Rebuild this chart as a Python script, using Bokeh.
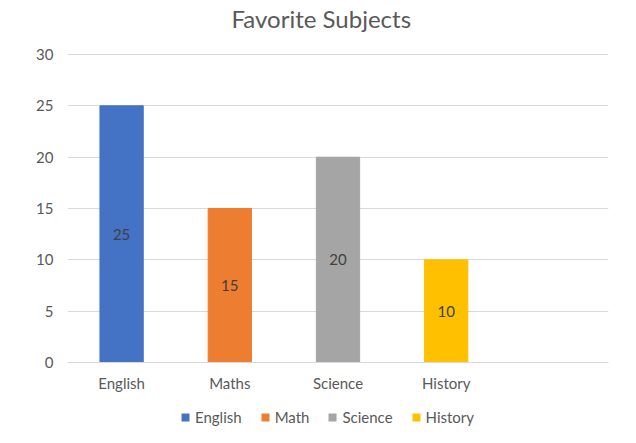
from bokeh.plotting import figure
from bokeh.layouts import column
from bokeh.models import ColumnDataSource, Range1d, Legend, LegendItem, FixedTicker, LabelSet
from bokeh.core.properties import value
from bokeh.embed import file_html
from bokeh.resources import INLINE

title_text = "Favorite Subjects"
categories = ["English", "Maths", "Science", "History", ""]
series_names = ["English", "Math", "Science", "History"]
values = [25, 15, 20, 10]
colors = ["#4472C4", "#ED7D31", "#A5A5A5", "#FFC000"]
y_ticks = [0, 5, 10, 15, 20, 25, 30]

FONT = "Lato"
TXT = "#595959"
FS = "15px"

# ---- header strip with the title
hd = figure(width=630, height=42, output_backend="svg", toolbar_location=None,
            x_range=Range1d(0, 1), y_range=Range1d(0, 1), title=title_text,
            min_border_left=0, min_border_right=0, min_border_top=0, min_border_bottom=0)
hd.axis.visible = False
hd.grid.visible = False
hd.outline_line_color = None
hd.title.align = "left"
hd.title.offset = 164
hd.title.text_font = FONT
hd.title.text_font_size = "24px"
hd.title.text_font_style = "normal"
hd.title.text_color = TXT
hd.title.standoff = 2

# ---- main chart
p = figure(frame_width=541, frame_height=309, output_backend="svg", toolbar_location=None,
           x_range=Range1d(0, len(categories)), y_range=Range1d(0, 30.1),
           min_border_left=67, min_border_right=22, min_border_top=11, min_border_bottom=40)
p.outline_line_color = None
p.background_fill_color = "white"
p.border_fill_color = "white"

for i, (v, c) in enumerate(zip(values, colors)):
    src = ColumnDataSource(dict(x=[i + 0.5], top=[v], mid=[v / 2], lab=[str(v)]))
    p.vbar(x="x", top="top", width=0.4, bottom=0, source=src, fill_color=c, line_color=c)
    p.add_layout(LabelSet(x="x", y="mid", text="lab", source=src, text_align="center",
                          text_baseline="middle", text_font_size=value(FS),
                          text_font=value(FONT), text_color="#404040"))

p.xaxis.ticker = FixedTicker(ticks=[i + 0.5 for i in range(len(categories))])
p.xaxis.major_label_overrides = {i + 0.5: c for i, c in enumerate(categories)}
p.xaxis.major_tick_line_color = None
p.xaxis.minor_tick_line_color = None
p.xaxis.axis_line_color = "#D9D9D9"
p.xaxis.major_label_text_font = FONT
p.xaxis.major_label_text_font_size = FS
p.xaxis.major_label_text_color = TXT
p.xaxis.major_label_standoff = 5

p.yaxis.ticker = FixedTicker(ticks=y_ticks)
p.yaxis.major_tick_line_color = None
p.yaxis.minor_tick_line_color = None
p.yaxis.axis_line_color = None
p.yaxis.major_label_text_font = FONT
p.yaxis.major_label_text_font_size = FS
p.yaxis.major_label_text_color = TXT
p.yaxis.major_label_standoff = 8

p.xgrid.grid_line_color = None
p.ygrid.grid_line_color = "#D9D9D9"

# ---- legend strip below the chart (its markers lie outside the visible range)
lg = figure(width=630, height=30, output_backend="svg", toolbar_location=None,
            x_range=Range1d(-10, -9), y_range=Range1d(-10, -9),
            min_border_left=0, min_border_right=0, min_border_top=0, min_border_bottom=0)
lg.axis.visible = False
lg.grid.visible = False
lg.outline_line_color = None
items = []
for i, (name, v, c) in enumerate(zip(series_names, values, colors)):
    r = lg.scatter(x=[i + 0.5], y=[v], marker="square", size=8, fill_color=c, line_color=None)
    items.append(LegendItem(label=name, renderers=[r]))
legend = Legend(items=items, orientation="horizontal", location=(108, 5),
                label_text_font=FONT, label_text_font_size=FS, label_text_color=TXT,
                glyph_width=20, glyph_height=20, spacing=13, label_standoff=0,
                border_line_color=None, background_fill_alpha=0, padding=0, margin=0)
lg.add_layout(legend)

layout = column(hd, p, lg, spacing=0)
open("out.html", "w").write(file_html(layout, INLINE))
